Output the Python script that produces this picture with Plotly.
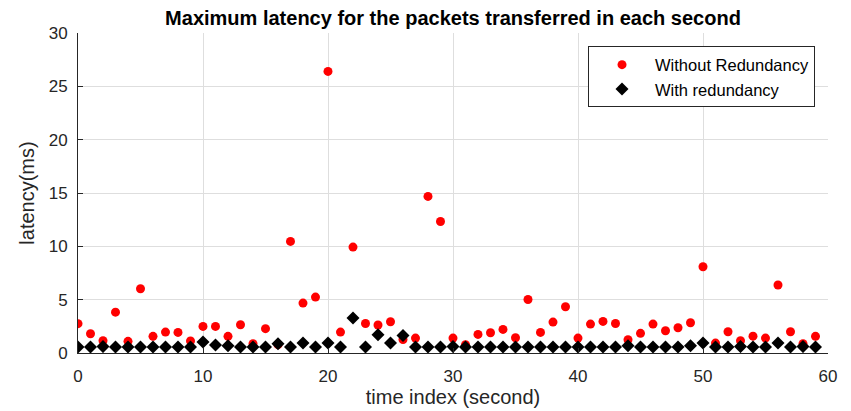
import plotly.graph_objects as go

time_index = list(range(60))
without_redundancy = [2.75, 1.8, 1.15, 3.83, 1.09, 6.02, 1.56, 1.96, 1.93, 1.12,
                      2.49, 2.49, 1.56, 2.65, 0.87, 2.28, 0.78, 10.46, 4.68, 5.24,
                      26.4, 1.96, 9.93, 2.77, 2.62, 2.93, 1.27, 1.40, 14.68, 12.33,
                      1.40, 0.78, 1.74, 1.90, 2.21, 1.43, 5.02, 1.93, 2.90, 4.34,
                      1.40, 2.71, 2.96, 2.77, 1.24, 1.84, 2.71, 2.09, 2.37, 2.84,
                      8.09, 0.93, 1.99, 1.15, 1.58, 1.40, 6.37, 1.99, 0.87, 1.56]
with_redundancy = [0.56, 0.56, 0.6, 0.56, 0.56, 0.56, 0.56, 0.56, 0.56, 0.56,
                   1.02, 0.74, 0.68, 0.56, 0.56, 0.56, 0.87, 0.56, 0.93, 0.56,
                   0.93, 0.56, 3.27, 0.56, 1.71, 0.93, 1.65, 0.56, 0.56, 0.56,
                   0.6, 0.56, 0.56, 0.56, 0.56, 0.56, 0.56, 0.56, 0.56, 0.56,
                   0.56, 0.56, 0.56, 0.56, 0.68, 0.56, 0.56, 0.56, 0.56, 0.68,
                   0.93, 0.56, 0.56, 0.6, 0.56, 0.56, 0.93, 0.56, 0.6, 0.56]

font = "Liberation Sans, Arial, sans-serif"

fig = go.Figure()
fig.add_trace(go.Scatter(x=time_index, y=without_redundancy, mode="markers",
                         name="Without Redundancy",
                         marker=dict(symbol="circle", size=9, color="#ff0000",
                                     line=dict(width=0))))
fig.add_trace(go.Scatter(x=time_index, y=with_redundancy, mode="markers",
                         name="With redundancy",
                         marker=dict(symbol="diamond", size=10, color="#000000",
                                     line=dict(width=0))))

fig.update_layout(
    width=851, height=411,
    margin=dict(l=70, r=31, t=25, b=66, autoexpand=False),
    paper_bgcolor="white", plot_bgcolor="white",
    font=dict(family=font, size=17, color="#262626"),
    title=dict(text="<b>Maximum latency for the packets transferred in each second</b>",
               x=(453 - 8) / 851, xanchor="center",
               y=1 - (18 - 8) / 411, yanchor="middle",
               font=dict(family=font, size=20, color="#000000")),
    legend=dict(x=0.9827, y=0.958, xanchor="right", yanchor="top",
                bgcolor="white", bordercolor="#262626", borderwidth=1,
                font=dict(family=font, size=16.5, color="#000000"),
                itemwidth=56, tracegroupgap=0),
    showlegend=True,
)
fig.update_xaxes(range=[0, 60], tickvals=[0, 10, 20, 30, 40, 50, 60],
                 showgrid=True, gridcolor="#dedede", gridwidth=1,
                 showline=True, linecolor="#262626", linewidth=1,
                 ticks="inside", ticklen=5, tickcolor="#262626",
                 ticklabelstandoff=8,
                 zeroline=False, mirror=False,
                 title=dict(text="time index (second)", standoff=4,
                            font=dict(family=font, size=20, color="#262626")),
                 tickfont=dict(family=font, size=17, color="#262626"))
fig.update_yaxes(range=[0, 30], tickvals=[0, 5, 10, 15, 20, 25, 30],
                 showgrid=True, gridcolor="#dedede", gridwidth=1,
                 showline=True, linecolor="#262626", linewidth=1,
                 ticks="inside", ticklen=5, tickcolor="#262626",
                 ticklabelstandoff=6,
                 zeroline=False, mirror=False,
                 title=dict(text="latency(ms)", standoff=8,
                            font=dict(family=font, size=20, color="#262626")),
                 tickfont=dict(family=font, size=17, color="#262626"))

fig.write_html("out.html")
